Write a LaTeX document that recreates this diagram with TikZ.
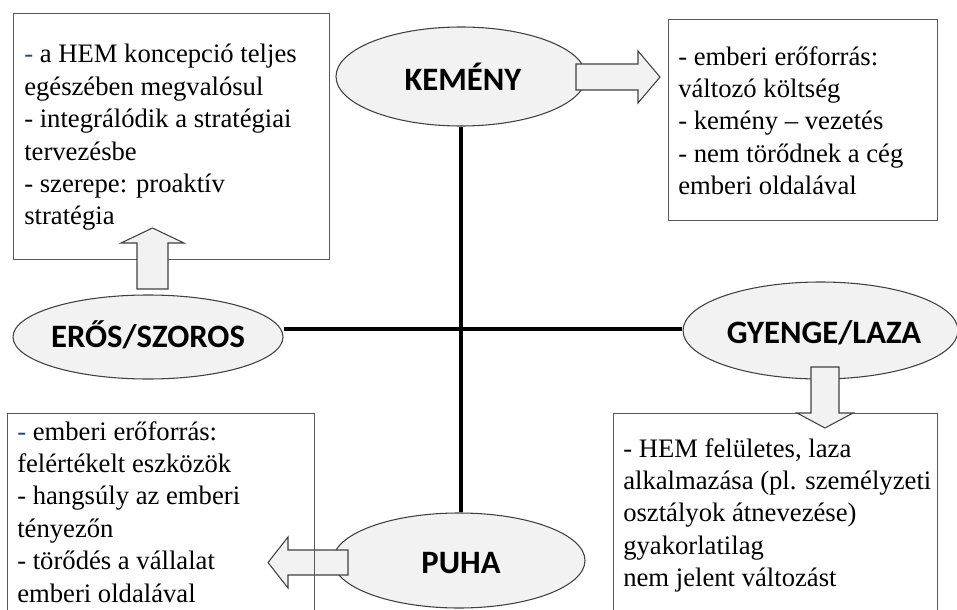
\documentclass[tikz,border=0pt]{standalone}
\usepackage{fontspec}
\setmainfont{Liberation Serif}
\newfontfamily\labelfont{Carlito}
\usetikzlibrary{shapes.geometric}
\definecolor{ovalfill}{HTML}{F2F2F2}
\definecolor{ovaledge}{HTML}{404040}
\definecolor{boxedge}{HTML}{595959}
\definecolor{dashblue}{HTML}{1F4E79}
% text block whose reference point is the baseline of its first line
\newcommand{\boxtext}[2]{\parbox[t]{#1}{\raggedright\fontsize{20pt}{24.3pt}\selectfont\leavevmode #2}}

\begin{document}
\begin{tikzpicture}[x=0.75pt,y=-0.75pt,
  oval/.style={ellipse, draw=ovaledge, fill=ovalfill, line width=0.8pt, inner sep=0pt},
  ovallabel/.style={font=\labelfont\bfseries\fontsize{24.5pt}{29pt}\selectfont,
    text height=15.8pt, text depth=0pt, inner sep=0pt},
  axis/.style={line width=3.4pt, black},
  blockarrow/.style={draw=ovaledge, fill=ovalfill, line width=0.8pt, line join=miter},
  textbox/.style={draw=boxedge, line width=1pt, inner sep=0pt, anchor=north west},
  boxlines/.style={anchor=base west, inner sep=0pt}
]
\useasboundingbox (0,0) rectangle (957,610);
\clip (0,0) rectangle (957,610);

% the four poles
\node[oval, minimum width=187.5pt, minimum height=74.25pt] (kem) at (461,76.5) {};
\node[oval, minimum width=202.5pt, minimum height=63pt] (eros) at (148,337) {};
\node[oval, minimum width=206.25pt, minimum height=72.75pt] (gyenge) at (820.5,330.5) {};
\node[oval, minimum width=189pt, minimum height=71.25pt] (puha) at (459,560.5) {};

\node[ovallabel] (kemlab) at (463,79.5) {KEMÉNY};
\node[ovallabel] (eroslab) at (148,337) {ERŐS/SZOROS};
\node[ovallabel] (gyengelab) at (824,333) {GYENGE/LAZA};
\node[ovallabel] (puhalab) at (461,563) {PUHA};

% axes
\coordinate (cross) at (461,329);
\draw[axis] (kem.south -| cross) -- (puha.north -| cross);
\draw[axis] (eros.east |- cross) -- (gyenge.west |- cross);

% description boxes
\node[textbox, minimum width=237pt, minimum height=184.5pt] (tlbox) at (13,13) {};
\node[textbox, minimum width=201.75pt, minimum height=150.75pt] (trbox) at (668,19) {};
\node[textbox, minimum width=243pt, minimum height=165pt] (brbox) at (613,413) {};

\node[boxlines] (tltext) at (24,63) {\boxtext{240pt}{\textcolor{dashblue}{-} a HEM koncepció teljes\\
  egészében megvalósul\\
  - integrálódik a stratégiai\\
  tervezésbe\\
  - szerepe: proaktív\\
  stratégia}};
\node[boxlines] (trtext) at (678,65) {\boxtext{200pt}{- emberi erőforrás:\\
  változó költség\\
  - kemény – vezetés\\
  - nem törődnek a cég\\
  emberi oldalával}};
\node[boxlines] (brtext) at (623,457) {\boxtext{240pt}{- HEM felületes, laza\\
  alkalmazása (pl. személyzeti\\
  osztályok átnevezése)\\
  gyakorlatilag\\
  nem jelent változást}};

% block arrows from the poles to their descriptions
\draw[blockarrow] (576,64) -- (638,64) -- (638,51) -- (660,77) -- (638,103)
  -- (638,90) -- (576,90) -- cycle;
\draw[blockarrow] (137,289) -- (137,243) -- (121,243) -- (152.5,228) -- (184,243)
  -- (168,243) -- (168,289) -- cycle;
\draw[blockarrow] (811,367) -- (839,367) -- (839,413) -- (853,413) -- (825,428)
  -- (797,413) -- (811,413) -- cycle;
\draw[blockarrow] (348,550) -- (288,550) -- (288,537) -- (268,562.5) -- (288,588)
  -- (288,575) -- (348,575) -- cycle;

% lower left box, its frame lies over the arrow
\node[textbox, minimum width=230.25pt, minimum height=165pt] (blbox) at (7,413) {};
\node[boxlines] (bltext) at (17,440) {\boxtext{230pt}{\textcolor{dashblue}{-} emberi erőforrás:\\
  felértékelt eszközök\\
  - hangsúly az emberi\\
  tényezőn\\
  - törődés a vállalat\\
  emberi oldalával}};
\end{tikzpicture}
\end{document}
